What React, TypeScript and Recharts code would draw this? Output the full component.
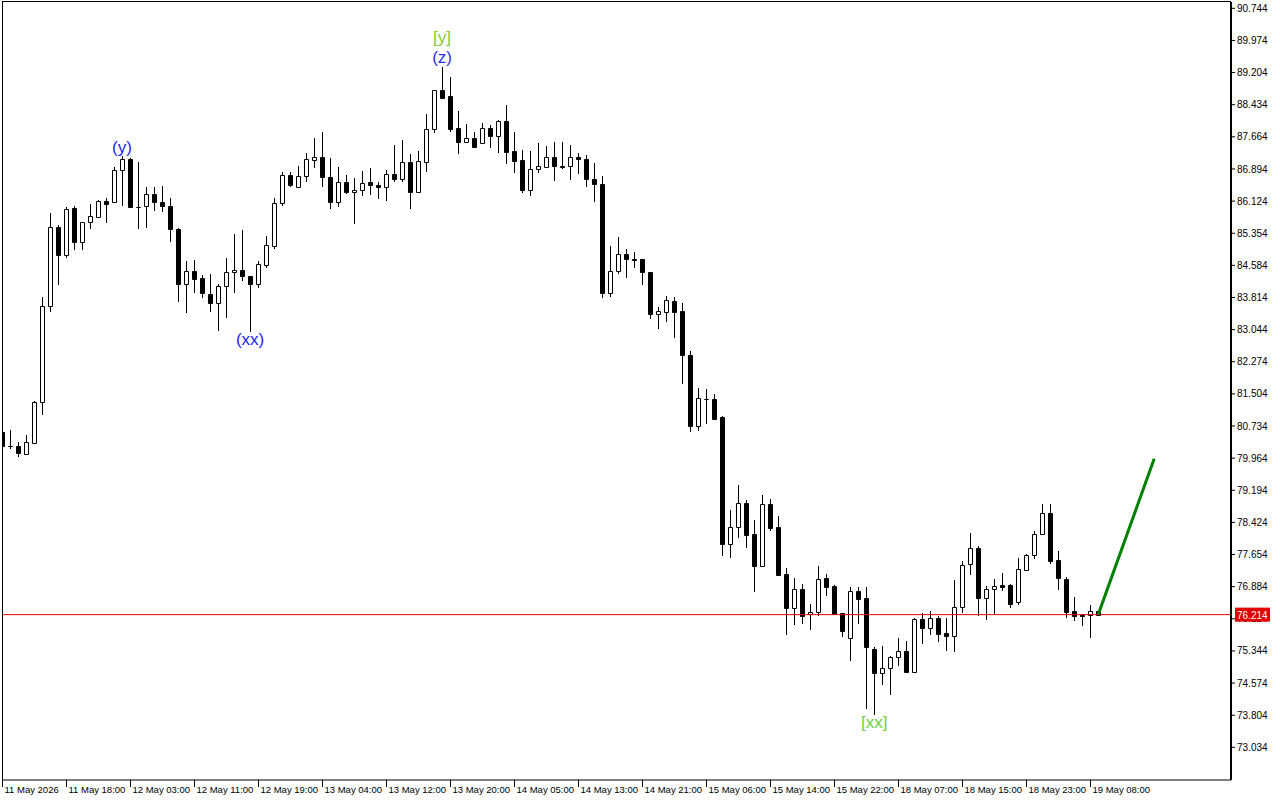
import React from "react"
import { ComposedChart, Bar, Line, XAxis, YAxis, ReferenceLine, ReferenceDot } from "recharts"

// hourly candles, bar index 0..137
const opens = [
 80.59, 80.26, 80.26, 80.07, 80.33, 81.3, 83.61, 85.5, 84.84, 85.96,
 85.15, 85.62, 85.75, 86.12, 86.1, 86.86, 87.13, 85.99, 86.0, 86.29,
 86.1, 86.0, 85.46, 84.14, 84.44, 84.27, 83.9, 83.67, 84.08, 84.42,
 84.47, 84.33, 84.14, 84.59, 85.05, 86.07, 86.74, 86.46, 86.72, 87.1,
 87.17, 86.69, 86.11, 86.57, 86.33, 86.38, 86.57, 86.5, 86.45, 86.77,
 86.66, 87.05, 86.35, 87.07, 87.85, 88.78, 88.64, 87.87, 87.55, 87.63,
 87.52, 87.87, 87.69, 88.04, 87.32, 87.1, 86.4, 86.89, 86.93, 87.17,
 86.96, 86.96, 87.17, 87.13, 86.65, 86.53, 83.91, 84.44, 84.85, 84.73,
 84.73, 84.42, 83.43, 83.46, 83.72, 83.48, 82.44, 80.74, 81.38, 81.37,
 80.95, 77.9, 78.31, 78.88, 78.14, 77.39, 78.86, 78.31, 77.18, 76.38,
 76.82, 76.22, 76.27, 77.09, 76.9, 76.25, 75.66, 76.77, 76.61, 75.39,
 74.82, 74.93, 75.19, 75.34, 74.84, 76.11, 75.9, 76.13, 75.77, 75.69,
 76.39, 77.42, 77.8, 76.62, 76.82, 76.92, 76.92, 76.51, 77.29, 77.64,
 78.14, 78.64, 77.52, 77.06, 76.29, 76.21, 76.21, 76.3,
]
const highs = [
 80.64, 80.64, 80.36, 80.52, 81.33, 83.83, 85.85, 85.54, 85.98, 86.0,
 85.62, 86.05, 86.14, 86.2, 86.93, 87.21, 87.16, 87.07, 86.46, 86.45,
 86.48, 86.19, 85.47, 84.69, 84.71, 84.35, 84.38, 84.13, 84.76, 85.34,
 85.43, 84.33, 84.7, 85.29, 86.19, 86.81, 86.82, 86.97, 87.28, 87.64,
 87.77, 87.15, 86.94, 86.75, 86.67, 86.85, 86.91, 86.57, 86.86, 87.47,
 87.59, 87.25, 87.32, 88.21, 88.78, 89.34, 89.1, 88.28, 87.97, 87.78,
 87.99, 87.95, 88.07, 88.43, 87.78, 87.35, 87.32, 87.52, 87.44, 87.54,
 87.54, 87.47, 87.28, 87.23, 87.04, 86.72, 85.04, 85.26, 84.98, 84.9,
 84.73, 84.42, 83.58, 83.85, 83.83, 83.68, 82.52, 81.65, 81.62, 81.5,
 80.98, 78.72, 79.32, 78.96, 78.48, 79.08, 78.99, 78.58, 77.32, 77.09,
 76.94, 76.47, 77.38, 77.19, 76.92, 76.25, 76.87, 76.87, 76.87, 75.45,
 75.46, 75.22, 75.65, 75.58, 76.13, 76.25, 76.3, 76.18, 76.14, 77.04,
 77.5, 78.17, 77.86, 76.89, 77.07, 77.21, 76.94, 77.56, 77.66, 78.21,
 78.87, 78.87, 77.74, 77.11, 76.64, 76.23, 76.45, 76.3,
]
const lows = [
 80.21, 80.18, 79.98, 80.06, 80.31, 81.0, 83.47, 84.12, 84.77, 84.94,
 84.94, 85.46, 85.74, 85.61, 86.09, 86.01, 85.97, 85.45, 85.49, 85.89,
 85.87, 85.15, 83.71, 83.45, 83.91, 83.79, 83.47, 83.02, 83.33, 83.93,
 84.22, 82.99, 84.05, 84.52, 84.98, 86.01, 86.45, 86.46, 86.59, 86.92,
 86.47, 85.94, 85.99, 86.3, 85.58, 86.25, 86.28, 86.18, 86.13, 86.58,
 86.57, 85.93, 86.35, 86.83, 87.76, 88.58, 87.79, 87.26, 87.52, 87.4,
 87.5, 87.4, 87.28, 87.02, 86.8, 86.32, 86.25, 86.8, 86.91, 86.61,
 86.89, 86.64, 86.78, 86.45, 86.11, 83.8, 83.82, 84.37, 84.27, 84.51,
 84.11, 83.31, 83.07, 83.23, 82.85, 81.75, 80.6, 80.62, 80.79, 80.88,
 77.63, 77.56, 78.06, 77.82, 76.76, 77.35, 78.23, 77.15, 75.73, 75.97,
 76.0, 75.85, 76.19, 76.66, 76.23, 75.68, 75.11, 75.99, 73.96, 73.81,
 74.53, 74.29, 74.98, 74.81, 74.82, 75.51, 75.73, 75.57, 75.35, 75.33,
 76.25, 77.17, 76.17, 76.09, 76.24, 76.78, 76.38, 76.45, 77.27, 77.55,
 78.14, 77.43, 76.81, 76.14, 76.07, 75.93, 75.66, 76.17,
]
const closes = [
 80.26, 80.25, 80.08, 80.34, 81.3, 83.61, 85.5, 84.84, 85.93, 85.15,
 85.62, 85.76, 86.12, 86.05, 86.86, 87.13, 85.99, 85.98, 86.29, 86.1,
 86.0, 85.46, 84.14, 84.44, 84.26, 83.91, 83.67, 84.09, 84.42, 84.47,
 84.34, 84.14, 84.61, 85.07, 86.07, 86.75, 86.5, 86.72, 87.13, 87.17,
 86.69, 86.11, 86.57, 86.33, 86.38, 86.56, 86.5, 86.45, 86.77, 86.66,
 87.05, 86.35, 87.08, 87.85, 88.78, 88.59, 87.85, 87.55, 87.63, 87.43,
 87.87, 87.69, 88.04, 87.31, 87.09, 86.4, 86.89, 86.96, 87.17, 86.96,
 86.95, 87.17, 87.13, 86.65, 86.53, 83.91, 84.44, 84.85, 84.73, 84.72,
 84.42, 83.43, 83.48, 83.75, 83.47, 82.44, 80.74, 81.4, 81.37, 80.91,
 77.91, 78.31, 78.88, 78.13, 77.39, 78.86, 78.3, 77.16, 76.38, 76.82,
 76.19, 76.28, 77.06, 76.88, 76.23, 75.83, 76.77, 76.6, 75.45, 74.82,
 74.93, 75.19, 75.34, 74.83, 76.11, 75.9, 76.13, 75.76, 75.69, 76.39,
 77.4, 77.8, 76.62, 76.82, 76.89, 76.88, 76.48, 77.3, 77.64, 78.14,
 78.64, 77.51, 77.08, 76.28, 76.17, 76.17, 76.29, 76.214,
]

const timeLabels = [
 "11 May 2026", "11 May 18:00", "12 May 03:00", "12 May 11:00", "12 May 19:00",
 "13 May 04:00", "13 May 12:00", "13 May 20:00", "14 May 05:00", "14 May 13:00",
 "14 May 21:00", "15 May 06:00", "15 May 14:00", "15 May 22:00", "18 May 07:00",
 "18 May 15:00", "18 May 23:00", "19 May 08:00",
]
const priceTicks = [
 90.744, 89.974, 89.204, 88.434, 87.664, 86.894, 86.124, 85.354, 84.584, 83.814,
 83.044, 82.274, 81.504, 80.734, 79.964, 79.194, 78.424, 77.654, 76.884, 76.114,
 75.344, 74.574, 73.804, 73.034,
]
const lastPrice = 76.214
const projBars = [137, 144]
const projValues = [76.214, 79.95]

const waveLabels = [
 { k: 15, text: "(y)", color: "#1c1cff", at: "high", dy: -3 },
 { k: 31, text: "(xx)", color: "#1c1cff", at: "low", dy: 13 },
 { k: 55, text: "(z)", color: "#2f2fe6", at: "high", dy: -4 },
 { k: 55, text: "[y]", color: "#86c832", at: "high", dy: -24 },
 { k: 109, text: "[xx]", color: "#6ccf3a", at: "low", dy: 13 },
]

const TOTAL_BARS = 154
const FONT = "'Liberation Sans', Arial, sans-serif"
const Y_DOMAIN = [72.251, 90.895]

const data = Array.from({ length: TOTAL_BARS }, (_, k) => {
 const row: any = { k }
 if (k < opens.length) {
  row.o = opens[k]
  row.h = highs[k]
  row.l = lows[k]
  row.c = closes[k]
  row.range = [lows[k], highs[k]]
 }
 const pi = projBars.indexOf(k)
 if (pi >= 0) row.proj = projValues[pi]
 return row
})

const tickIdx = timeLabels.map((_, i) => i * 8)

const Candle = (props: any) => {
 const { x, y, width, height, payload } = props
 if (!payload || payload.h == null || !(height > 0)) return null
 const { o, h, l, c } = payload
 const ppu = height / (h - l)
 const cx = Math.floor(x + width / 2)
 const yO = y + (h - o) * ppu
 const yC = y + (h - c) * ppu
 const top = Math.round(Math.min(yO, yC)) + 0.5
 const bot = Math.round(Math.max(yO, yC)) + 0.5
 const up = c >= o
 const x0 = cx - 1.5
 const x1 = cx + 2.5
 return (
  <g>
   <line
    x1={cx + 0.5}
    x2={cx + 0.5}
    y1={Math.round(y)}
    y2={Math.round(y + height)}
    stroke="#000"
    strokeWidth={1}
   />
   <path
    d={`M${x0},${top}H${x1}V${bot}H${x0}Z`}
    fill={up ? "#fff" : "#000"}
    stroke="#000"
    strokeWidth={1}
   />
  </g>
 )
}

const TimeTick = (props: any) => {
 const { x, y, payload } = props
 const label = timeLabels[Math.round(payload.value / 8)]
 const px = Math.floor(x) + 0.5
 return (
  <g>
   <line x1={px} x2={px} y1={y} y2={y + 7} stroke="#000" strokeWidth={1} />
   <text x={px + 2} y={y + 13} fontSize={9.5} fontFamily={FONT} fill="#000" textAnchor="start">
    {label}
   </text>
  </g>
 )
}

// drawn by a 1px-wide second price axis so it sits above the regular tick labels
const PriceTag = (props: any) => {
 const { x, y } = props
 return (
  <g>
   <rect x={x - 44} y={y - 7} width={35} height={14} fill="#e00000" />
   <text x={x - 42} y={y + 4} fontSize={10} fontFamily={FONT} fill="#fff">
    {lastPrice.toFixed(3)}
   </text>
  </g>
 )
}

export default function App() {
 return (
  <div style={{ position: "fixed", left: 0, top: 0, width: 1280, height: 800, background: "#fff" }}>
   <ComposedChart
    width={1280}
    height={800}
    data={data}
    margin={{ top: 2, right: 0, bottom: 0, left: 2 }}
   >
    <XAxis
     dataKey="k"
     type="number"
     domain={[0, 153.6]}
     allowDataOverflow
     ticks={tickIdx}
     interval={0}
     height={20}
     tickSize={0}
     tickMargin={0}
     tickLine={false}
     axisLine={{ stroke: "#000", strokeWidth: 1 }}
     tick={<TimeTick />}
    />
    <YAxis
     yAxisId="price"
     orientation="right"
     type="number"
     domain={Y_DOMAIN}
     allowDataOverflow
     ticks={priceTicks}
     interval={0}
     width={48}
     tickSize={4}
     tickMargin={2}
     tickFormatter={(v: number) => v.toFixed(3)}
     tick={{ fontSize: 10, fontFamily: FONT, fill: "#000" }}
     tickLine={{ stroke: "#000" }}
     axisLine={{ stroke: "#000", strokeWidth: 2 }}
    />
    <YAxis
     yAxisId="tag"
     orientation="right"
     type="number"
     domain={Y_DOMAIN}
     allowDataOverflow
     ticks={[lastPrice]}
     interval={0}
     width={1}
     tickSize={0}
     tickMargin={0}
     tickLine={false}
     axisLine={false}
     tick={<PriceTag />}
    />
    <ReferenceLine yAxisId="price" y={lastPrice} stroke="#e00000" strokeWidth={1} />
    <Bar yAxisId="price" dataKey="range" barSize={5} shape={<Candle />} isAnimationActive={false} />
    <Line
     yAxisId="price"
     dataKey="proj"
     stroke="#008000"
     strokeWidth={3}
     dot={false}
     connectNulls
     isAnimationActive={false}
    />
    {waveLabels.map((w, i) => (
     <ReferenceDot
      key={i}
      yAxisId="price"
      x={w.k}
      y={w.at === "high" ? highs[w.k] : lows[w.k]}
      r={0}
      shape={(p: any) => (
       <text
        x={p.cx}
        y={p.cy + w.dy}
        textAnchor="middle"
        fontSize={17}
        fontFamily={FONT}
        fill={w.color}
       >
        {w.text}
       </text>
      )}
     />
    ))}
   </ComposedChart>
   <div
    style={{
     position: "absolute",
     left: 2,
     top: 1,
     width: 1229,
     height: 779,
     borderTop: "1px solid #000",
     borderLeft: "1px solid #000",
     boxSizing: "border-box",
     pointerEvents: "none",
    }}
   />
  </div>
 )
}
